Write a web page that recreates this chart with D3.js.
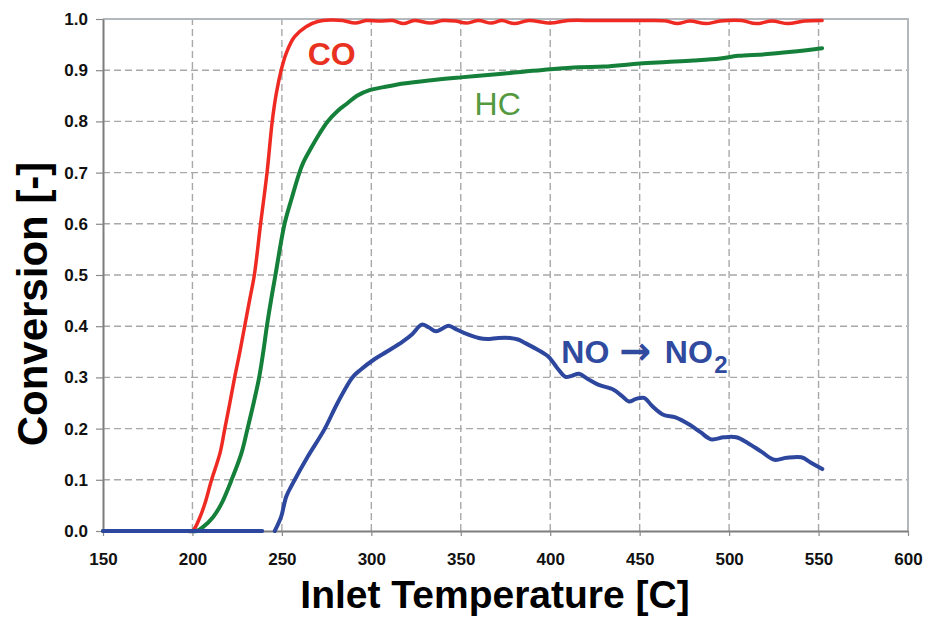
<!DOCTYPE html>
<html>
<head>
<meta charset="utf-8">
<script src="https://cdn.jsdelivr.net/npm/d3@7"></script>
<style>
  body { margin: 0; background: #fff; }
  text { font-family: "Liberation Sans", Arial, sans-serif; }
</style>
</head>
<body>
<div id="chart"></div>
<script>
// --- data ---
var xTicks = [150, 200, 250, 300, 350, 400, 450, 500, 550, 600];
var yTicks = [0, 0.1, 0.2, 0.3, 0.4, 0.5, 0.6, 0.7, 0.8, 0.9, 1.0];

var coTemp = [150, 175, 196, 200, 204.3, 207, 210.7, 215.4, 218.1, 220.9, 223.6, 226.5, 229.2, 232, 234.6, 238.1, 241.7, 244.6, 246.9, 249.6, 252.4, 257, 263.5, 270, 277, 284, 291, 297, 305, 312, 318, 324, 333, 340, 347, 353, 360, 367, 373, 380, 388, 400, 410, 425, 440, 455, 465, 471, 478, 487, 495, 507, 515, 524, 533, 542, 552];
var coConv = [0, 0, 0, 0, 0.028, 0.054, 0.1, 0.152, 0.2, 0.25, 0.3, 0.35, 0.4, 0.452, 0.5, 0.6, 0.7, 0.8, 0.855, 0.9, 0.933, 0.965, 0.985, 0.995, 0.998, 0.997, 0.992, 0.997, 0.996, 0.997, 0.991, 0.997, 0.992, 0.997, 0.996, 0.992, 0.997, 0.992, 0.997, 0.991, 0.997, 0.992, 0.997, 0.997, 0.997, 0.997, 0.996, 0.991, 0.996, 0.991, 0.996, 0.997, 0.991, 0.996, 0.991, 0.996, 0.997];

var hcTemp = [150, 175, 198, 202.4, 206, 211.7, 216.3, 221.9, 227.4, 230.8, 234.2, 237.3, 239.6, 241.6, 243.9, 246.4, 251.5, 255.5, 259.8, 262, 266.3, 271, 275.6, 281, 286.5, 292, 299, 307, 318, 332, 350, 370, 385, 400, 416, 430, 450, 465, 480, 495, 505, 520, 535, 552];
var hcConv = [0, 0, 0, 0, 0.008, 0.028, 0.054, 0.1, 0.152, 0.2, 0.25, 0.3, 0.35, 0.4, 0.45, 0.5, 0.6, 0.65, 0.7, 0.72, 0.748, 0.776, 0.8, 0.82, 0.835, 0.85, 0.861, 0.867, 0.874, 0.88, 0.886, 0.892, 0.897, 0.902, 0.906, 0.907, 0.913, 0.916, 0.919, 0.923, 0.928, 0.931, 0.936, 0.943];

// null = the short gap in the NO trace just before light-off
var noTemp = [150, 200, 239, 242, 246, 249.6, 252.4, 256.1, 264.4, 273.7, 281.1, 289.4, 294, 301.5, 309, 317.5, 323, 328.2, 332, 336.2, 340, 343.2, 348, 353.9, 360, 364.7, 371, 377.5, 382, 386.1, 392, 398.9, 404, 408.6, 412, 416.1, 421, 426.8, 435.4, 440, 444, 448, 452.5, 457, 463.2, 470, 478.2, 484, 490, 497, 504, 510.4, 518, 525.4, 532, 540.4, 546, 552.1];
var noConv = [0, 0, 0, null, 0, 0.028, 0.067, 0.093, 0.145, 0.198, 0.25, 0.3, 0.315, 0.335, 0.351, 0.37, 0.385, 0.403, 0.398, 0.39, 0.396, 0.401, 0.393, 0.384, 0.377, 0.375, 0.377, 0.377, 0.374, 0.367, 0.356, 0.341, 0.318, 0.301, 0.303, 0.307, 0.297, 0.286, 0.276, 0.264, 0.253, 0.258, 0.26, 0.244, 0.227, 0.222, 0.207, 0.193, 0.179, 0.183, 0.183, 0.172, 0.155, 0.139, 0.143, 0.144, 0.133, 0.121];

// in-plot labels (anchored in data units)
var coLabelAt = [264.4, 0.91];
var hcLabelAt = [357.7, 0.8125];
var noLabelAt = [406.2, 0.3275];

// --- layout ---
var W = 926, H = 617;
var margin = { top: 19, right: 18, bottom: 86, left: 103 };

var svg = d3.select('#chart').append('svg')
  .attr('width', W)
  .attr('height', H);

var x = d3.scaleLinear().domain([150, 600]).range([margin.left, W - margin.right]);
var y = d3.scaleLinear().domain([0, 1]).range([H - margin.bottom, margin.top]);

var gridLayer = svg.append('g').attr('class', 'grid-layer');
var axisLayer = svg.append('g').attr('class', 'axis-layer');
var curveLayer = svg.append('g').attr('class', 'curve-layer');
var labelLayer = svg.append('g').attr('class', 'label-layer');

drawGrid();
drawAxes();
drawCurve(coTemp, coConv, '#ee2a23', 3.5);
drawCurve(hcTemp, hcConv, '#15803a', 4);
drawCurve(noTemp, noConv, '#2e479e', 4);
drawLabels();

// functions:

function drawGrid() {
  gridLayer.selectAll('line.hgrid').data(yTicks.slice(1, -1))
    .enter().append('line')
    .attr('class', 'hgrid')
    .attr('x1', x(150)).attr('x2', x(600))
    .attr('y1', function(d) { return y(d); })
    .attr('y2', function(d) { return y(d); });

  gridLayer.selectAll('line.vgrid').data(xTicks.slice(1, -1))
    .enter().append('line')
    .attr('class', 'vgrid')
    .attr('y1', y(0)).attr('y2', y(1))
    .attr('x1', function(d) { return x(d); })
    .attr('x2', function(d) { return x(d); });

  gridLayer.selectAll('line')
    .attr('stroke', '#a8a8a8')
    .attr('stroke-width', 1.4)
    .attr('stroke-dasharray', '7,4');

  // top and right frame
  gridLayer.append('path')
    .attr('d', 'M' + x(150) + ',' + y(1) + 'H' + x(600) + 'V' + y(0))
    .attr('fill', 'none')
    .attr('stroke', '#b3b8bd')
    .attr('stroke-width', 2);
}

function drawAxes() {
  var xAxis = d3.axisBottom(x).tickValues(xTicks).tickSizeInner(5).tickSizeOuter(0).tickPadding(17);
  var yAxis = d3.axisLeft(y).tickValues(yTicks).tickSizeInner(7).tickSizeOuter(0).tickPadding(8)
    .tickFormat(d3.format('.1f'));

  var gx = axisLayer.append('g')
    .attr('transform', 'translate(0,' + y(0) + ')')
    .call(xAxis);
  var gy = axisLayer.append('g')
    .attr('transform', 'translate(' + x(150) + ',0)')
    .call(yAxis);

  [gx, gy].forEach(function(g) {
    g.select('.domain').attr('stroke', '#7d7d7d').attr('stroke-width', 2);
    g.selectAll('.tick line').attr('stroke', '#8a8a8a').attr('stroke-width', 1.2);
    g.selectAll('.tick text')
      .attr('fill', '#111')
      .style('font-size', '17px')
      .style('font-weight', 'bold');
  });

  axisLayer.append('text')
    .attr('x', 495).attr('y', 608)
    .attr('text-anchor', 'middle')
    .style('font-size', '39px').style('font-weight', 'bold')
    .text('Inlet Temperature [C]');

  axisLayer.append('text')
    .attr('transform', 'translate(47,304) rotate(-90)')
    .attr('text-anchor', 'middle')
    .style('font-size', '42px').style('font-weight', 'bold')
    .text('Conversion [-]');
}

function drawCurve(temps, convs, color, width) {
  var pts = temps.map(function(t, i) { return { t: t, c: convs[i] }; });
  var line = d3.line()
    .defined(function(d) { return d.c !== null; })
    .x(function(d) { return x(d.t); })
    .y(function(d) { return y(d.c); })
    .curve(d3.curveCatmullRom.alpha(0.5));

  curveLayer.append('path')
    .datum(pts)
    .attr('d', line)
    .attr('fill', 'none')
    .attr('stroke', color)
    .attr('stroke-width', width)
    .attr('stroke-linejoin', 'round')
    .attr('stroke-linecap', 'round');
}

function drawLabels() {
  labelLayer.append('text')
    .attr('x', x(coLabelAt[0])).attr('y', y(coLabelAt[1]))
    .attr('fill', '#e8321f')
    .style('font-size', '32px').style('font-weight', 'bold')
    .text('CO');

  labelLayer.append('text')
    .attr('x', x(hcLabelAt[0])).attr('y', y(hcLabelAt[1]))
    .attr('fill', '#55993f')
    .style('font-size', '32px')
    .text('HC');

  var nx = x(noLabelAt[0]), ny = y(noLabelAt[1]);
  var no = labelLayer.append('text')
    .attr('y', ny)
    .attr('fill', '#2f4a9e')
    .style('font-size', '32px').style('font-weight', 'bold');
  no.append('tspan').attr('x', nx).text('NO');
  no.append('tspan').attr('x', nx + 58).attr('dy', 1)
    .style('font-family', '"DejaVu Sans", sans-serif').style('font-size', '38px').text('\u2192');
  no.append('tspan').attr('x', nx + 103.5).attr('dy', -1).text('NO');
  no.append('tspan').attr('x', nx + 153).attr('dy', 10).style('font-size', '24px').text('2');
}
</script>
</body>
</html>
